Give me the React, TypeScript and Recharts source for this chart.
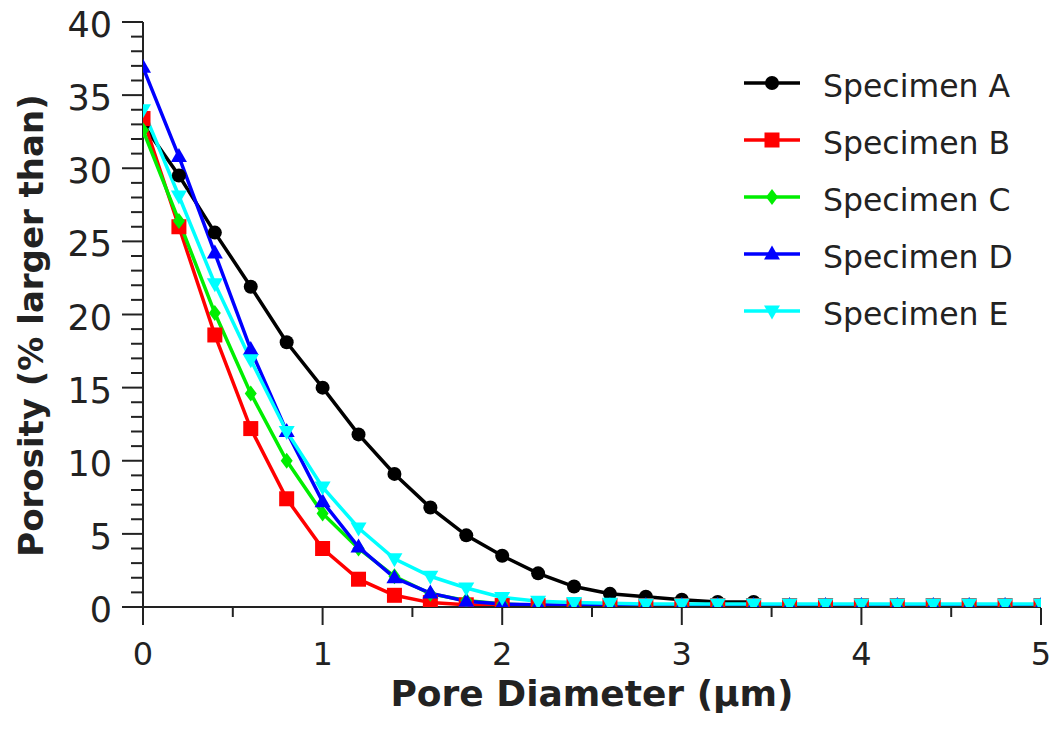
import { LineChart, Line, XAxis, YAxis, Legend, Label } from "recharts";

// pore diameter (µm), one reading every 0.2
const diameters = [
  0, 0.2, 0.4, 0.6, 0.8, 1.0, 1.2, 1.4, 1.6, 1.8, 2.0, 2.2, 2.4, 2.6, 2.8, 3.0, 3.2, 3.4, 3.6, 3.8, 4.0,
  4.2, 4.4, 4.6, 4.8, 5.0,
];

const specimenA = [
  33.0, 29.5, 25.6, 21.9, 18.1, 15.0, 11.8, 9.1, 6.8, 4.9, 3.5, 2.3, 1.4, 0.9, 0.7, 0.5, 0.35, 0.35,
  null, null, null, null, null, null, null, null,
];
const specimenB = [
  33.4, 26.0, 18.6, 12.2, 7.4, 4.0, 1.9, 0.8, 0.3, 0.15, 0.1, 0.1, 0.1, 0.1, 0.1, 0.1, 0.1, 0.1, 0.1,
  0.1, 0.1, 0.1, 0.1, 0.1, 0.1, 0.1,
];
const specimenC = [
  32.6, 26.4, 20.1, 14.6, 10.0, 6.4, 4.0, 2.1, 0.9, 0.45, 0.2, 0.1, 0.1, 0.1, 0.1, 0.1, 0.1, 0.1, 0.1,
  0.1, 0.1, 0.1, 0.1, 0.1, 0.1, 0.1,
];
const specimenD = [
  36.9, 30.8, 24.2, 17.6, 12.0, 7.2, 4.1, 2.0, 0.95, 0.4, 0.2, 0.15, 0.1, 0.1, 0.1, 0.1, 0.1, 0.1, 0.1,
  0.1, 0.1, 0.1, 0.1, 0.1, 0.1, 0.1,
];
const specimenE = [
  34.0, 28.1, 22.1, 16.9, 12.0, 8.2, 5.4, 3.3, 2.1, 1.3, 0.65, 0.4, 0.3, 0.25, 0.2, 0.2, 0.2, 0.2,
  0.2, 0.2, 0.2, 0.2, 0.2, 0.2, 0.2, 0.2,
];

const xTicks = [0, 0.5, 1, 1.5, 2, 2.5, 3, 3.5, 4, 4.5, 5];
const yTicks = Array.from({ length: 41 }, (_, i) => i);

const data = diameters.map((d, i) => ({
  d,
  A: specimenA[i],
  B: specimenB[i],
  C: specimenC[i],
  D: specimenD[i],
  E: specimenE[i],
}));

const series = [
  { key: "A", name: "Specimen A", color: "#000000", shape: "circle" },
  { key: "B", name: "Specimen B", color: "#ff0000", shape: "square" },
  { key: "C", name: "Specimen C", color: "#00ee00", shape: "diamond" },
  { key: "D", name: "Specimen D", color: "#0000ff", shape: "up" },
  { key: "E", name: "Specimen E", color: "#00ffff", shape: "down" },
];

const font = "'DejaVu Sans', Verdana, sans-serif";
const ink = "#222";

const Marker = ({ cx, cy, shape, color }: any) => {
  if (shape === "circle") return <circle cx={cx} cy={cy} r={7} fill={color} />;
  if (shape === "square") return <rect x={cx - 7.5} y={cy - 7.5} width={15} height={15} fill={color} />;
  if (shape === "diamond")
    return <polygon points={`${cx},${cy - 8} ${cx + 6},${cy} ${cx},${cy + 8} ${cx - 6},${cy}`} fill={color} />;
  if (shape === "up")
    return <polygon points={`${cx},${cy - 8.5} ${cx + 8},${cy + 5.5} ${cx - 8},${cy + 5.5}`} fill={color} />;
  return <polygon points={`${cx - 8},${cy - 5.5} ${cx + 8},${cy - 5.5} ${cx},${cy + 8.5}`} fill={color} />;
};

const YTick = ({ x, y, payload }: any) => {
  const major = payload.value % 5 === 0;
  return (
    <g>
      <line x1={x - (major ? 21 : 12)} x2={x} y1={y} y2={y} stroke={ink} strokeWidth={2} />
      {major && (
        <text x={x - 31} y={y + 15} textAnchor="end" fontSize={35} fontFamily={font} fill={ink}>
          {payload.value}
        </text>
      )}
    </g>
  );
};

const XTick = ({ x, y, payload }: any) => {
  const major = Number.isInteger(payload.value);
  return (
    <g>
      <line x1={x} x2={x} y1={y + 1} y2={y + (major ? 18 : 10)} stroke={ink} strokeWidth={2} />
      {major && (
        <text x={x} y={y + 58} textAnchor="middle" fontSize={32} fontFamily={font} fill={ink}>
          {payload.value}
        </text>
      )}
    </g>
  );
};

const LegendBox = () => (
  <svg width={300} height={290}>
    {series.map((s, i) => {
      const y = 33 + i * 57;
      return (
        <g key={s.key}>
          <line x1={4} x2={60} y1={y} y2={y} stroke={s.color} strokeWidth={3.5} />
          <Marker cx={32} cy={y} shape={s.shape} color={s.color} />
          <text x={83} y={y + 14} fontSize={31.5} fontFamily={font} fill={ink}>
            {s.name}
          </text>
        </g>
      );
    })}
  </svg>
);

export default function App() {
  return (
    <div style={{ position: "absolute", left: 0, top: 0, background: "#fff" }}>
      <LineChart width={1061} height={732} data={data} margin={{ top: 22, right: 20, left: 0, bottom: 0 }}>
        <XAxis
          dataKey="d"
          type="number"
          domain={[0, 5]}
          ticks={xTicks}
          height={125}
          tickSize={0}
          tickMargin={0}
          tick={<XTick />}
          axisLine={{ stroke: ink, strokeWidth: 2 }}
          interval={0}
          allowDataOverflow
        >
          <Label
            content={({ viewBox }: any) => (
              <text
                x={viewBox.x + viewBox.width / 2}
                y={viewBox.y + 99}
                textAnchor="middle"
                fontSize={36}
                fontWeight="bold"
                fontFamily={font}
                fill={ink}
              >
                Pore Diameter (µm)
              </text>
            )}
          />
        </XAxis>
        <YAxis
          type="number"
          domain={[0, 40]}
          ticks={yTicks}
          width={143}
          tickSize={0}
          tickMargin={0}
          tick={<YTick />}
          axisLine={{ stroke: ink, strokeWidth: 2 }}
          interval={0}
          allowDataOverflow
        >
          <Label
            content={({ viewBox }: any) => {
              const cy = viewBox.y + viewBox.height / 2 + 11;
              return (
                <text
                  x={43}
                  y={cy}
                  transform={`rotate(-90, 43, ${cy})`}
                  textAnchor="middle"
                  fontSize={34}
                  fontWeight="bold"
                  fontFamily={font}
                  fill={ink}
                >
                  Porosity (% larger than)
                </text>
              );
            }}
          />
        </YAxis>
        <Legend
          layout="horizontal"
          verticalAlign="middle"
          align="center"
          wrapperStyle={{ left: 740, top: 50, width: 300 }}
          content={() => <LegendBox />}
        />
        {series.map((s) => (
          <Line
            key={s.key}
            dataKey={s.key}
            name={s.name}
            type="linear"
            stroke={s.color}
            strokeWidth={3.5}
            isAnimationActive={false}
            dot={(p: any) =>
              p.cy == null || p.value == null ? (
                <g key={`${s.key}-${p.index}`} />
              ) : (
                <Marker key={`${s.key}-${p.index}`} cx={p.cx} cy={p.cy} shape={s.shape} color={s.color} />
              )
            }
            activeDot={false}
          />
        ))}
      </LineChart>
    </div>
  );
}
